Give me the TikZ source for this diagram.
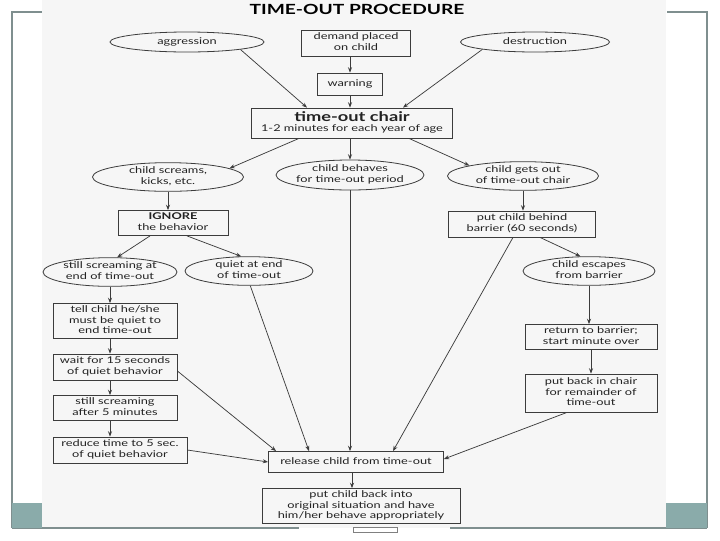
\documentclass[tikz,border=0pt]{standalone}
\usepackage{fontspec}
\setmainfont{Lato}[FakeStretch=1.37]
\usetikzlibrary{shapes.geometric,arrows.meta,calc}
\definecolor{ln}{HTML}{3c3c3c}
\definecolor{txt}{HTML}{222222}
\definecolor{framec}{HTML}{7f8f8f}
\definecolor{tealc}{HTML}{8aabaa}
\definecolor{scan}{HTML}{f6f6f6}
\newcommand\lines[1]{\makebox[0pt]{\begin{tabular}{@{}c@{}}#1\end{tabular}}}
\begin{document}
\begin{tikzpicture}[x=0.75pt,y=-0.75pt,font=\fontsize{7}{7.6}\selectfont,
  boxn/.style={draw=ln,line width=0.6pt,rectangle,inner sep=0pt,text=txt},
  elln/.style={draw=ln,line width=0.6pt,ellipse,inner sep=0pt,text=txt},
  arr/.style={draw=ln,line width=0.55pt,-{Stealth[length=4pt,width=3pt]}},
  framel/.style={draw=framec,line width=0.8pt}]
\useasboundingbox (0,0) rectangle (720,540);
% slide frame and scan area
\fill[scan] (42,0) rectangle (666,528);
\draw[framel] (12,528) -- (12,12) -- (42,12);
\draw[framel] (667,12) -- (707,12) -- (707,528);
\draw[framel] (12,528) -- (299,528);
\draw[framel] (450,528) -- (707,528);
\fill[tealc] (12,503) rectangle (42,528);
\fill[tealc] (666,503) rectangle (707,528);
\draw[draw=gray,line width=0.4pt] (353,527) rectangle (397,532);
% title
\node[text=black,font=\fontsize{10.5}{12}\selectfont\bfseries] (title) at (357,9) {TIME-OUT PROCEDURE};
% nodes
\node[elln,minimum width=115.5pt,minimum height=15pt] (agg) at (187,42) {\lines{aggression}};
\node[boxn,minimum width=81.75pt,minimum height=19.5pt] (demand) at (356,43) {\lines{demand placed\\on child}};
\node[elln,minimum width=111.75pt,minimum height=15pt] (destr) at (535,42) {\lines{destruction}};
\node[boxn,minimum width=48.75pt,minimum height=16.5pt] (warn) at (350,84) {\lines{warning}};
\node[boxn,minimum width=150.75pt,minimum height=22.5pt] (chair) at (352,123) {\lines{{\fontsize{10}{11}\selectfont\bfseries time-out chair}\\1-2 minutes for each year of age}};
\node[elln,minimum width=113.25pt,minimum height=21pt] (screams) at (168,177) {\lines{child screams,\\kicks, etc.}};
\node[elln,minimum width=111pt,minimum height=22.5pt] (behaves) at (350,175) {\lines{child behaves\\for time-out period}};
\node[elln,minimum width=113.25pt,minimum height=20.25pt] (getsout) at (523,176) {\lines{child gets out\\of time-out chair}};
\node[boxn,minimum width=82.5pt,minimum height=18.75pt] (ignore) at (173,223) {\lines{\textbf{IGNORE}\\the behavior}};
\node[boxn,minimum width=110.25pt,minimum height=19.5pt] (barrier) at (522,224) {\lines{put child behind\\barrier (60 seconds)}};
\node[elln,minimum width=100.5pt,minimum height=19.5pt] (stillscr) at (110,272) {\lines{still screaming at\\end of time-out}};
\node[elln,minimum width=96pt,minimum height=20.25pt] (quiet) at (249,271) {\lines{quiet at end\\of time-out}};
\node[elln,minimum width=99pt,minimum height=21pt] (escapes) at (589,271) {\lines{child escapes\\from barrier}};
\node[boxn,minimum width=93pt,minimum height=26.25pt] (tell) at (115,321) {\lines{tell child he/she\\must be quiet to\\end time-out}};
\node[boxn,minimum width=93pt,minimum height=19.5pt] (wait) at (115,367) {\lines{wait for 15 seconds\\of quiet behavior}};
\node[boxn,minimum width=93pt,minimum height=18.75pt] (after5) at (115,408) {\lines{still screaming\\after 5 minutes}};
\node[boxn,minimum width=100.5pt,minimum height=19.5pt] (reduce) at (120,450) {\lines{reduce time to 5 sec.\\of quiet behavior}};
\node[boxn,minimum width=99pt,minimum height=18.75pt] (return) at (591,337) {\lines{return to barrier;\\start minute over}};
\node[boxn,minimum width=99pt,minimum height=28.5pt] (putback) at (591,393) {\lines{put back in chair\\for remainder of\\time-out}};
\node[boxn,minimum width=131.25pt,minimum height=15.75pt] (release) at (356,462) {\lines{release child from time-out}};
\node[boxn,minimum width=148.5pt,minimum height=26.25pt] (final) at (361,506) {\lines{put child back into\\original situation and have\\him/her behave appropriately}};
% connectors
\draw[arr] (agg.-8) -- ($(chair.north)+(-45,0)$);
\draw[arr] (destr.188) -- ($(chair.north)+(51,0)$);
\draw[arr] (warn.north |- demand.south) -- (warn.north);
\draw[arr] (warn.south) -- (warn.south |- chair.north);
\draw[arr] ($(chair.south)+(-53,0)$) -- (screams.8);
\draw[arr] (behaves.north |- chair.south) -- (behaves.north);
\draw[arr] ($(chair.south)+(57,0)$) -- (getsout.169);
\draw[arr] (screams.south) -- (screams.south |- ignore.north);
\draw[arr] (getsout.south) -- (getsout.south |- barrier.north);
\draw[arr] ($(ignore.south)+(-23,0)$) -- (stillscr.64);
\draw[arr] ($(ignore.south)+(14,0)$) -- (quiet.118);
\draw[arr] ($(barrier.south)+(18,0)$) -- (escapes.120);
\draw[arr] ($(barrier.south)+(-9,0)$) -- ($(release.north)+(37,0)$);
\draw[arr] (quiet.-85) -- ($(release.north)+(-47,0)$);
\draw[arr] (behaves.south) -- (behaves.south |- release.north);
\draw[arr] (stillscr.south) -- (stillscr.south |- tell.north);
\draw[arr] (tell.south -| stillscr.south) -- (wait.north -| stillscr.south);
\draw[arr] (wait.south -| stillscr.south) -- (after5.north -| stillscr.south);
\draw[arr] (after5.south -| stillscr.south) -- (reduce.north -| stillscr.south);
\draw[arr] ($(wait.east)+(0,4)$) -- ($(release.north west)+(8,0)$);
\draw[arr] (reduce.east) -- (release.west);
\draw[arr] (escapes.south) -- (escapes.south |- return.north);
\draw[arr] (return.south) -- (putback.north);
\draw[arr] ($(putback.south)+(-24,0)$) -- ($(release.east)+(0,-3)$);
\draw[arr] ($(release.south)+(-4,0)$) coordinate (rs) -- (rs |- final.north);
\end{tikzpicture}
\end{document}
